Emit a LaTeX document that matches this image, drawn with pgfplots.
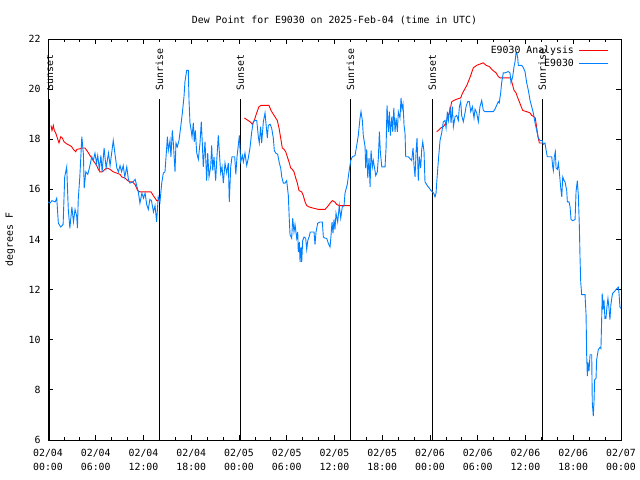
\documentclass[border=0pt]{standalone}
\usepackage{fontspec}
\setmainfont{DejaVu Sans Mono}
\usepackage{pgfplots}
\pgfplotsset{compat=1.18}
\definecolor{dewblue}{RGB}{0,128,255}
\newcommand\f{\fontsize{9.9}{13.3}\selectfont}
\begin{document}
\begin{tikzpicture}
\path[use as bounding box] (-48bp,-40bp) rectangle (592bp,440bp);
\begin{axis}[
  at={(0,0)}, anchor=south west,
  scale only axis, width=573bp, height=401bp,
  xmin=0, xmax=72, ymin=6, ymax=22,
  xtick={0,6,...,72},
  xticklabels={{02/04\\00:00},{02/04\\06:00},{02/04\\12:00},{02/04\\18:00},
    {02/05\\00:00},{02/05\\06:00},{02/05\\12:00},{02/05\\18:00},
    {02/06\\00:00},{02/06\\06:00},{02/06\\12:00},{02/06\\18:00},{02/07\\00:00}},
  minor x tick num=2,
  ytick={6,8,...,22},
  tick align=inside,
  major tick length=5bp, minor tick length=3bp,
  tick style={black, line width=0.8bp},
  axis line style={black, line width=0.9bp},
  font=\f,
  /pgf/number format/assume math mode=true,
  xticklabel style={align=center, font=\f, yshift=-6bp},
  yticklabel style={font=\f, xshift=-4bp},
  title={Dew Point for E9030 on 2025-Feb-04 (time in UTC)},
  title style={at={(0.5,1)}, anchor=base, yshift=10bp, font=\f},
  ylabel={degrees F},
  ylabel style={at={(axis description cs:-0.066,0.5)}, anchor=center, font=\f},
  legend style={draw=none, fill=none, at={(axis description cs:1,1)}, anchor=north east,
    xshift=-9bp, yshift=-3bp, font=\f, row sep=0bp, column sep=3bp,
    nodes={text height=7bp, text depth=2bp, inner sep=2bp}},
  legend plot pos=right, legend cell align=right,
  legend image code/.code={\draw[#1] (0bp,0bp) -- (29bp,0bp);},
]
% sunrise / sunset markers
\addplot[black, line width=1bp, forget plot] coordinates {(0.19,6) (0.19,19.6)};
\addplot[black, line width=1bp, forget plot] coordinates {(14.0,6) (14.0,19.6)};
\addplot[black, line width=1bp, forget plot] coordinates {(24.17,6) (24.17,19.6)};
\addplot[black, line width=1bp, forget plot] coordinates {(38.0,6) (38.0,19.6)};
\addplot[black, line width=1bp, forget plot] coordinates {(48.3,6) (48.3,19.6)};
\addplot[black, line width=1bp, forget plot] coordinates {(62.1,6) (62.1,19.6)};
\node[rotate=90, anchor=west, inner sep=0pt, xshift=1.5bp] at (axis cs:0.19,19.88) {Sunset};
\node[rotate=90, anchor=west, inner sep=0pt, xshift=1.5bp] at (axis cs:14.0,19.88) {Sunrise};
\node[rotate=90, anchor=west, inner sep=0pt, xshift=1.5bp] at (axis cs:24.17,19.88) {Sunset};
\node[rotate=90, anchor=west, inner sep=0pt, xshift=1.5bp] at (axis cs:38.0,19.88) {Sunrise};
\node[rotate=90, anchor=west, inner sep=0pt, xshift=1.5bp] at (axis cs:48.3,19.88) {Sunset};
\node[rotate=90, anchor=west, inner sep=0pt, xshift=1.5bp] at (axis cs:62.1,19.88) {Sunrise};

% analysis (night segments only)
\addplot[red, line width=0.9bp] coordinates {
(0.38,18.55) (0.5,18.35) (0.67,18.55) (0.79,18.35) (0.97,18.25) (1.17,18.05) (1.38,17.85)
(1.6,18.1) (1.8,18.05) (2.01,17.9) (2.22,17.85) (2.43,17.8) (2.76,17.75) (2.98,17.7)
(3.18,17.6) (3.48,17.5) (3.64,17.6) (4.02,17.62) (4.23,17.65) (4.65,17.65) (4.99,17.5)
(5.28,17.35) (5.49,17.25) (5.69,17.15) (5.91,17.05) (6.12,16.95) (6.32,16.8) (6.53,16.7)
(6.82,16.7) (7.16,16.8) (7.41,16.85) (7.79,16.8) (8.21,16.7) (8.63,16.65) (9.05,16.6)
(9.26,16.5) (9.68,16.45) (10.02,16.35) (10.3,16.3) (10.59,16.3) (10.93,16.2) (11.27,15.95)
(11.56,15.9) (12.19,15.9) (12.94,15.9) (13.23,15.75) (13.45,15.65) (13.66,15.55) (13.9,15.55)
};
\addlegendentry{E9030 Analysis}
\addplot[red, line width=0.9bp, forget plot] coordinates {
(24.67,18.85) (25.0,18.78) (25.38,18.7) (25.67,18.6) (25.92,18.75) (26.22,19.05) (26.51,19.3)
(26.77,19.35) (27.27,19.35) (27.77,19.35) (28.02,19.15) (28.31,19.0) (28.61,18.85) (28.81,18.75)
(29.03,18.45) (29.24,18.05) (29.44,17.65) (29.66,17.6) (29.87,17.5) (30.07,17.3) (30.28,17.1)
(30.5,16.85) (30.7,16.8) (30.91,16.7) (31.13,16.45) (31.33,16.25) (31.54,15.95) (31.88,15.9)
(32.08,15.75) (32.3,15.5) (32.51,15.35) (32.8,15.3) (33.34,15.25) (33.97,15.2) (34.81,15.2)
(35.22,15.35) (35.44,15.45) (35.73,15.55) (36.03,15.5) (36.28,15.4) (36.57,15.35) (37.11,15.35)
(37.95,15.35)
};
\addplot[red, line width=0.9bp, forget plot] coordinates {
(48.84,18.3) (49.05,18.35) (49.35,18.45) (49.67,18.5) (49.89,18.6) (50.1,18.75) (50.3,18.95)
(50.52,19.15) (50.73,19.5) (51.02,19.55) (51.36,19.6) (51.86,19.65) (52.03,19.8) (52.28,19.95)
(52.62,20.15) (52.82,20.3) (53.12,20.55) (53.44,20.85) (53.87,20.95) (54.28,21.0) (54.7,21.05)
(55.04,20.95) (55.45,20.9) (55.88,20.75) (56.3,20.65) (56.58,20.5) (56.8,20.45) (58.14,20.45)
(58.31,20.25) (58.56,19.95) (58.81,19.85) (58.97,19.7) (59.22,19.5) (59.4,19.35) (59.65,19.15)
(60.15,19.1) (60.57,19.05) (60.78,18.95) (61.07,18.9) (61.23,18.85) (61.41,18.45) (61.57,18.1)
(61.74,17.85) (62.08,17.85)
};

% station observations
\addplot[dewblue, line width=0.9bp] coordinates {
(0.04,15.5) (0.25,15.45) (0.5,15.55) (0.9,15.5) (1.1,15.65) (1.3,14.65) (1.6,14.5) (1.9,14.6)
(2.1,16.5) (2.35,16.9) (2.55,15.2) (2.75,14.45) (3.0,15.3) (3.2,14.7) (3.4,15.2) (3.6,14.95)
(3.7,14.45) (3.8,15.6) (4.0,16.5) (4.25,18.1) (4.45,17.4) (4.55,16.05) (4.75,16.7) (5.0,16.6)
(5.2,16.85) (5.5,17.3) (5.7,17.15) (5.9,17.45) (6.1,17.05) (6.25,17.35) (6.45,16.8) (6.65,17.35)
(6.8,16.7) (7.05,17.65) (7.3,16.85) (7.6,17.45) (7.8,16.95) (8.0,17.45) (8.2,17.95) (8.4,17.45)
(8.65,16.85) (8.85,16.7) (9.05,16.95) (9.25,16.7) (9.45,16.95) (9.65,16.5) (9.9,16.9) (10.1,16.4)
(10.3,16.25) (10.7,16.3) (10.95,16.4) (11.15,16.15) (11.35,15.9) (11.55,15.45) (11.8,15.85)
(12.0,15.65) (12.2,15.85) (12.4,15.4) (12.6,15.2) (12.8,15.6) (13.0,15.55) (13.25,15.1)
(13.45,15.35) (13.65,14.7) (13.85,15.7) (14.07,15.5)
(14.29,16.25) (14.49,16.65) (14.7,16.7) (14.92,17.7) (15.0,18.1) (15.12,17.55) (15.33,17.95)
(15.45,17.3) (15.62,18.35) (15.75,17.85) (15.96,16.7) (16.08,17.85) (16.25,17.7) (16.46,17.95)
(16.68,18.5) (16.88,19.05) (17.09,19.7) (17.21,20.3) (17.43,20.75) (17.63,20.75) (17.72,19.55)
(17.84,18.65) (17.97,18.4) (18.1,18.1) (18.26,18.65) (18.38,17.9) (18.51,18.35) (18.69,17.45)
(18.89,17.2) (19.1,17.85) (19.26,18.7) (19.39,17.85) (19.51,16.9) (19.73,17.9) (19.94,16.35)
(20.07,17.45) (20.23,16.5) (20.44,16.9) (20.57,17.75) (20.7,16.75) (20.86,17.3) (21.07,16.35)
(21.2,17.15) (21.4,18.15) (21.53,17.5) (21.7,16.65) (21.87,16.9) (22.03,16.25) (22.24,17.05)
(22.46,16.65) (22.66,17.05) (22.78,15.5) (22.96,16.9) (23.12,17.3) (23.46,17.3) (23.6,16.6)
(23.75,17.3) (23.91,17.75) (24.04,18.15) (24.21,17.1) (24.42,17.35) (24.55,17.1) (24.75,17.45)
(24.97,16.95) (25.17,17.25)
(25.38,17.65) (25.6,18.3) (25.8,18.7) (26.0,18.75) (26.23,18.75) (26.43,18.1) (26.55,17.85)
(26.72,18.5) (26.85,17.85) (27.06,18.7) (27.27,19.05) (27.4,18.6) (27.56,18.05) (27.68,18.55)
(27.9,18.6) (28.1,18.45) (28.31,18.05) (28.44,17.55) (28.61,17.45) (28.86,17.4) (29.07,17.05)
(29.24,16.85) (29.37,16.5) (29.57,16.25) (29.78,16.25) (29.99,16.35) (30.2,15.75) (30.32,14.8)
(30.41,14.2) (30.62,14.05) (30.75,14.85) (30.91,14.3) (31.04,14.6) (31.25,14.05) (31.38,14.3)
(31.45,13.5) (31.58,13.9) (31.67,13.1) (31.79,13.7) (31.88,13.1) (32.0,13.95) (32.17,14.1)
(32.38,14.05) (32.51,13.6) (32.64,13.95) (32.8,14.1) (32.96,14.3) (33.3,14.3) (33.43,14.3)
(33.55,13.8) (33.68,14.3) (33.89,14.65) (34.18,14.7) (34.47,14.7) (34.6,14.1) (34.81,14.05)
(35.02,14.05) (35.22,13.85) (35.44,13.7) (35.56,14.15) (35.69,14.7) (35.81,14.25) (35.94,14.8)
(36.06,14.4) (36.19,15.05) (36.4,14.7) (36.6,15.35) (36.78,14.85) (36.98,15.3) (37.2,15.35)
(37.32,15.85) (37.61,16.2) (37.82,16.7) (38.04,17.15) (38.24,17.3)
(38.58,17.35) (38.79,17.75) (38.99,18.15) (39.21,18.85) (39.33,19.1) (39.5,18.75) (39.62,18.15)
(39.84,17.7) (39.92,16.85) (40.05,17.6) (40.18,16.45) (40.34,17.25) (40.47,16.1) (40.59,17.55)
(40.76,16.9) (40.88,17.15) (41.01,16.9) (41.18,16.55) (41.38,16.7) (41.51,17.25) (41.64,18.3)
(41.76,17.5) (41.94,16.9) (42.35,16.9) (42.48,17.65) (42.6,19.35) (42.77,18.3) (42.9,19.1)
(43.02,18.15) (43.2,18.9) (43.32,18.3) (43.45,19.25) (43.61,18.3) (43.74,18.85) (43.9,18.3)
(44.02,19.1) (44.23,18.85) (44.36,19.65) (44.48,19.2) (44.61,19.4) (44.74,18.55) (44.86,18.25)
(44.95,17.3) (45.28,17.3) (45.7,17.15) (45.87,17.65) (45.99,16.95) (46.12,16.5) (46.25,17.5)
(46.37,18.05) (46.53,16.35) (46.66,17.3) (46.83,16.85) (46.96,17.6) (47.09,17.9) (47.25,17.5)
(47.37,16.3) (47.66,16.15) (47.91,16.05) (48.13,15.95) (48.29,15.9) (48.46,15.85) (48.63,15.7)
(48.76,15.85)
(48.84,16.25) (49.05,17.15) (49.26,17.95) (49.47,18.25) (49.67,18.7) (49.89,18.75) (50.02,18.45)
(50.18,19.1) (50.31,18.75) (50.52,19.3) (50.64,18.65) (50.81,19.3) (50.94,18.5) (51.15,18.9)
(51.36,18.95) (51.56,18.75) (51.69,19.3) (51.86,19.5) (51.98,18.95) (52.19,18.7) (52.4,19.05)
(52.53,19.3) (52.74,19.5) (52.94,19.5) (53.12,19.1) (53.32,19.3) (53.53,18.85) (53.66,19.2)
(53.87,19.05) (54.07,18.7) (54.28,19.3) (54.5,19.55) (54.7,19.15) (54.91,19.1) (55.12,19.1)
(55.45,19.1) (55.95,19.1) (56.16,19.2) (56.37,19.35) (56.58,19.5) (56.7,19.45) (56.88,19.85)
(57.0,20.25) (57.21,20.65) (57.42,20.65) (57.84,20.7) (58.05,20.65) (58.18,20.25) (58.39,20.5)
(58.56,20.9) (58.69,21.1) (58.81,21.45) (58.9,21.45) (59.02,21.25) (59.1,20.95) (59.52,20.95)
(59.73,20.85) (59.94,20.7) (60.15,20.25) (60.36,19.95) (60.57,19.55) (60.78,19.3) (60.98,19.05)
(61.2,18.65) (61.41,18.35) (61.61,18.05) (61.82,17.95) (62.08,17.95) (62.24,17.8) (62.45,17.85)
(62.57,17.6) (62.74,17.3) (63.3,17.3) (63.42,16.9) (63.5,16.75) (63.62,17.3) (63.75,17.5)
(63.84,16.85) (64.0,16.8) (64.13,17.05) (64.25,16.7) (64.43,16.05) (64.56,15.7) (64.68,16.5)
(64.85,16.35) (64.97,16.3) (65.18,15.95) (65.26,15.5) (65.47,15.5) (65.6,15.3) (65.72,14.8)
(65.94,14.75) (66.23,14.8) (66.35,15.9) (66.51,16.35) (66.64,15.75) (66.77,14.5) (66.85,13.3)
(66.94,12.3) (67.06,11.8) (67.48,11.8) (67.61,11.0) (67.69,9.35) (67.77,8.55) (67.86,9.1)
(67.98,8.75) (68.11,9.4) (68.32,9.4) (68.39,7.5) (68.52,6.95) (68.61,7.55) (68.69,8.4)
(68.86,8.45) (68.94,9.2) (69.14,9.6) (69.36,9.7) (69.48,9.65) (69.57,10.8) (69.64,11.85)
(69.73,11.2) (69.86,11.6) (69.98,10.85) (70.11,10.85) (70.23,11.3) (70.36,11.65) (70.48,11.3)
(70.61,10.8) (70.73,11.4) (70.86,11.7) (70.95,11.85) (71.12,11.9) (71.37,12.0) (71.66,12.1)
(71.75,11.85) (71.87,11.3) (72.0,11.25)
};
\addlegendentry{E9030}
\end{axis}
\end{tikzpicture}
\end{document}
